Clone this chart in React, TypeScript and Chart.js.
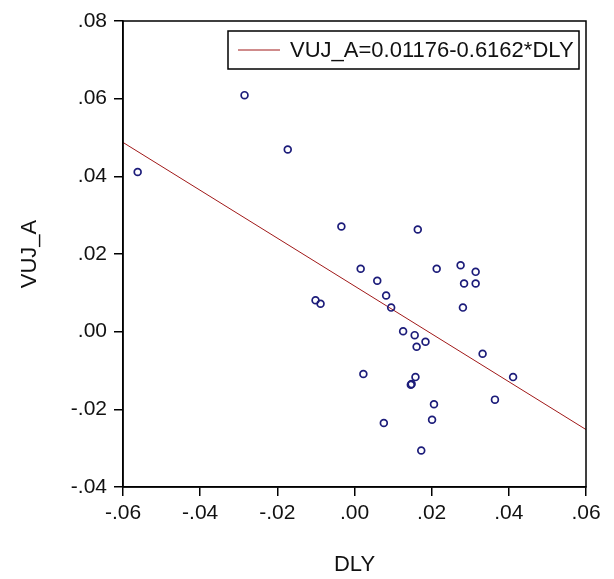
import { useEffect, useRef } from "react";
import { Chart, registerables } from "chart.js";

Chart.register(...registerables);

// Observations: DLY (x) and VUJ_A (y)
const dly = [
  -0.0562, -0.0285, -0.0173, -0.0034, 0.0164, -0.0101, -0.0088, 0.0016,
  0.0059, 0.0082, 0.0095, 0.0213, 0.0275, 0.0314, 0.0284, 0.0314,
  0.0281, 0.0126, 0.0156, 0.0184, 0.0161, 0.0332, 0.0411, 0.0023,
  0.0158, 0.0148, 0.0146, 0.0206, 0.0364, 0.0076, 0.0201, 0.0173,
];
const vujA = [
  0.0411, 0.0609, 0.0469, 0.0271, 0.0263, 0.0081, 0.0072, 0.0162,
  0.0131, 0.0093, 0.0062, 0.0162, 0.0171, 0.0154, 0.0124, 0.0124,
  0.0062, 0.0001, -0.0009, -0.0026, -0.0039, -0.0057, -0.0117, -0.0109,
  -0.0117, -0.0135, -0.0137, -0.0187, -0.0175, -0.0235, -0.0227, -0.0306,
];

// Fitted regression: VUJ_A = intercept + slope * DLY
const intercept = 0.01176;
const slope = -0.6162;

const xRange = [-0.06, 0.06];
const yRange = [-0.04, 0.08];
const tickStep = 0.02;

const FONT = "'Liberation Sans', Arial, sans-serif";

// ".08", "-.04", ".00" style labels
const fmt = (v: number) => {
  const r = Math.round(v * 100) / 100;
  const s = Math.abs(r).toFixed(2).replace(/^0/, "");
  return (r < 0 ? "-" : "") + s;
};

const framePlugin = {
  id: "frameAndKey",
  afterDraw(chart: any) {
    const { ctx, chartArea } = chart;
    const { left, top, right, bottom } = chartArea;
    ctx.save();
    ctx.strokeStyle = "#000";
    ctx.lineWidth = 1.5;
    ctx.strokeRect(left, top, right - left, bottom - top);

    // key box for the fitted line
    const ds = chart.data.datasets[1];
    const bx = left + 105;
    const by = top + 10;
    const bw = right - 7 - bx;
    const bh = 38;
    ctx.fillStyle = "#fff";
    ctx.fillRect(bx, by, bw, bh);
    ctx.lineWidth = 1.5;
    ctx.strokeStyle = "#000";
    ctx.strokeRect(bx, by, bw, bh);
    const my = by + bh / 2;
    ctx.strokeStyle = ds.borderColor;
    ctx.lineWidth = 1;
    ctx.beginPath();
    ctx.moveTo(bx + 10, my);
    ctx.lineTo(bx + 52, my);
    ctx.stroke();
    ctx.fillStyle = "#111";
    ctx.font = `22px ${FONT}`;
    ctx.textBaseline = "middle";
    ctx.textAlign = "left";
    ctx.fillText(ds.label, bx + 62, my + 1);
    ctx.restore();
  },
};

export default function App() {
  const ref = useRef<HTMLCanvasElement | null>(null);

  useEffect(() => {
    if (!ref.current) return;
    const points = dly.map((x, i) => ({ x, y: vujA[i] }));
    const fit = xRange.map((x) => ({ x, y: intercept + slope * x }));
    const chart = new Chart(ref.current, {
      type: "scatter",
      data: {
        datasets: [
          {
            label: "VUJ_A",
            data: points,
            pointStyle: "circle",
            pointRadius: 3.4,
            pointBorderWidth: 1.7,
            pointBorderColor: "#1c1c7a",
            pointBackgroundColor: "rgba(0,0,0,0)",
            showLine: false,
          },
          {
            label: `VUJ_A=${intercept}${slope < 0 ? "-" : "+"}${Math.abs(slope)}*DLY`,
            type: "line",
            data: fit,
            borderColor: "#a01818",
            borderWidth: 1,
            pointRadius: 0,
            fill: false,
          },
        ],
      },
      options: {
        responsive: false,
        animation: false,
        devicePixelRatio: 1,
        layout: { padding: { top: 21, right: 28, left: 0, bottom: 0 } },
        plugins: {
          legend: { display: false },
          tooltip: { enabled: false },
        },
        scales: {
          x: {
            type: "linear",
            min: xRange[0],
            max: xRange[1],
            ticks: {
              stepSize: tickStep,
              callback: (v: any) => fmt(Number(v)),
              color: "#111",
              font: { family: FONT, size: 21 },
              padding: 5,
              maxRotation: 0,
            },
            grid: {
              display: true,
              drawOnChartArea: false,
              drawTicks: true,
              tickLength: 9,
              color: "#000",
              lineWidth: 1.5,
            },
            border: { display: true, color: "#000", width: 1.5 },
            title: {
              display: true,
              text: "DLY",
              color: "#111",
              font: { family: FONT, size: 22 },
              padding: { top: 0, bottom: 1 },
            },
            afterFit: (s: any) => {
              s.height = 92;
            },
          },
          y: {
            type: "linear",
            min: yRange[0],
            max: yRange[1],
            ticks: {
              stepSize: tickStep,
              callback: (v: any) => fmt(Number(v)),
              color: "#111",
              font: { family: FONT, size: 21 },
              padding: 7,
            },
            grid: {
              display: true,
              drawOnChartArea: false,
              drawTicks: true,
              tickLength: 9,
              color: "#000",
              lineWidth: 1.5,
            },
            border: { display: true, color: "#000", width: 1.5 },
            title: {
              display: true,
              text: "VUJ_A",
              color: "#111",
              font: { family: FONT, size: 22 },
              padding: { top: 17, bottom: 0 },
            },
            afterFit: (s: any) => {
              s.width = 123;
            },
          },
        },
      },
      plugins: [framePlugin],
    });
    return () => chart.destroy();
  }, []);

  return (
    <div
      style={{
        position: "fixed",
        left: 0,
        top: 0,
        width: 614,
        height: 579,
        background: "#fff",
      }}
    >
      <canvas ref={ref} width={614} height={579} />
    </div>
  );
}
